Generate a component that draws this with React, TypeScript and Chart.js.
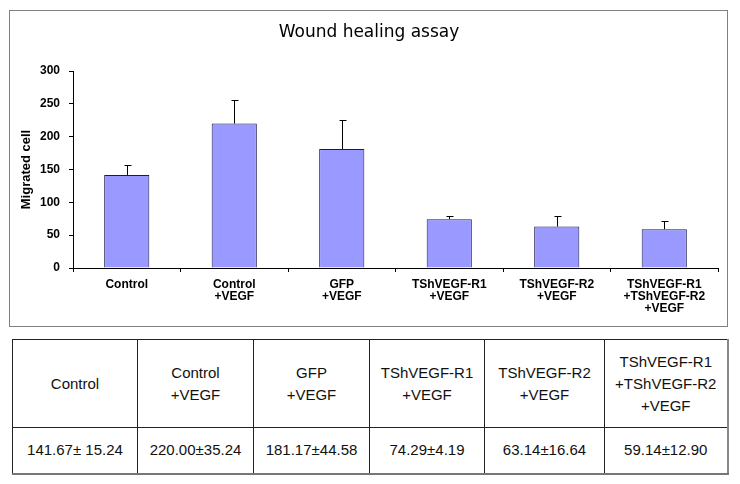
import React, { useEffect, useRef } from "react";
import { Chart, registerables } from "chart.js";

Chart.register(...registerables);

const chartTitle = "Wound healing assay";
const yAxisTitle = "Migrated cell";
const categories: string[][] = [
  ["Control"],
  ["Control", "+VEGF"],
  ["GFP", "+VEGF"],
  ["TShVEGF-R1", "+VEGF"],
  ["TShVEGF-R2", "+VEGF"],
  ["TShVEGF-R1", "+TShVEGF-R2", "+VEGF"],
];
const means = [141.67, 220.0, 181.17, 74.29, 63.14, 59.14];
const sds = [15.24, 35.24, 44.58, 4.19, 16.64, 12.9];
const tableValues = [
  "141.67± 15.24",
  "220.00±35.24",
  "181.17±44.58",
  "74.29±4.19",
  "63.14±16.64",
  "59.14±12.90",
];
const yMin = 0;
const yMax = 300;
const yStep = 50;

const FONT = "'Liberation Sans', Arial, sans-serif";

const errorBarPlugin = {
  id: "errorBars",
  afterDatasetsDraw(chart: any) {
    const ctx = chart.ctx;
    const meta = chart.getDatasetMeta(0);
    const yScale = chart.scales.y;
    ctx.save();
    ctx.strokeStyle = "#000";
    ctx.lineWidth = 1;
    meta.data.forEach((bar: any, i: number) => {
      const x = Math.round(bar.x) + 0.5;
      const top = Math.round(yScale.getPixelForValue(means[i] + sds[i])) + 0.5;
      ctx.beginPath();
      ctx.moveTo(x, bar.y);
      ctx.lineTo(x, top);
      ctx.moveTo(x - 3, top);
      ctx.lineTo(x + 4, top);
      ctx.stroke();
    });
    ctx.restore();
  },
};

const titlePlugin = {
  id: "customTitle",
  afterDraw(chart: any) {
    const ctx = chart.ctx;
    ctx.save();
    ctx.fillStyle = "#000";
    ctx.font = `17px 'DejaVu Sans', ${FONT}`;
    ctx.textAlign = "center";
    ctx.textBaseline = "middle";
    ctx.fillText(chartTitle, 369, 33);
    ctx.restore();
  },
};

function BarChart() {
  const ref = useRef<HTMLCanvasElement | null>(null);
  useEffect(() => {
    if (!ref.current) return;
    const chart = new Chart(ref.current, {
      type: "bar",
      data: {
        labels: categories,
        datasets: [
          {
            data: means,
            backgroundColor: "#9999ff",
            borderColor: "#1a1a50",
            borderWidth: 1,
            barPercentage: 0.42,
            categoryPercentage: 1,
          },
        ],
      },
      options: {
        responsive: false,
        animation: false,
        events: [],
        layout: { padding: { left: 0, right: 22, top: 71, bottom: 0 } },
        plugins: {
          legend: { display: false },
          title: { display: false },
          tooltip: { enabled: false },
        },
        scales: {
          x: {
            grid: {
              display: true,
              drawOnChartArea: false,
              drawTicks: true,
              tickLength: 4,
              color: "#000",
            },
            border: { color: "#000", width: 1 },
            ticks: {
              color: "#000",
              font: { family: FONT, size: 12, weight: "bold", lineHeight: 1.0 },
              padding: 7,
              maxRotation: 0,
              autoSkip: false,
            },
            afterFit(scale: any) {
              scale.height = 62;
            },
          },
          y: {
            min: yMin,
            max: yMax,
            grid: {
              display: true,
              drawOnChartArea: false,
              drawTicks: true,
              tickLength: 4,
              color: "#000",
            },
            border: { color: "#000", width: 1 },
            ticks: {
              stepSize: yStep,
              color: "#000",
              font: { family: FONT, size: 12, weight: "bold" },
              padding: 9,
            },
            title: {
              display: true,
              text: yAxisTitle,
              color: "#000",
              font: { family: FONT, size: 13, weight: "bold" },
              padding: { top: 19, bottom: 0 },
            },
            afterFit(scale: any) {
              scale.width = 73;
            },
          },
        },
      },
      plugins: [errorBarPlugin, titlePlugin],
    });
    return () => chart.destroy();
  }, []);
  return (
    <canvas
      ref={ref}
      width={740}
      height={330}
      style={{ position: "absolute", left: 0, top: 0, width: 740, height: 330 }}
    />
  );
}

const colWidths = [125, 116, 116, 115, 120, 123];

export default function App() {
  const cellBase: React.CSSProperties = {
    border: "1px solid #222",
    textAlign: "center",
    verticalAlign: "middle",
    padding: 0,
    fontFamily: FONT,
    fontSize: 15,
    color: "#111",
    lineHeight: "22px",
  };
  return (
    <div
      style={{
        position: "absolute",
        left: 0,
        top: 0,
        width: 740,
        height: 484,
        background: "#fff",
        overflow: "hidden",
      }}
    >
      <div
        style={{
          position: "absolute",
          left: 9,
          top: 10,
          width: 719,
          height: 317,
          boxSizing: "border-box",
          border: "1px solid #808080",
        }}
      />
      <BarChart />
      <table
        style={{
          position: "absolute",
          left: 12,
          top: 339,
          width: 716,
          height: 135,
          borderCollapse: "collapse",
          tableLayout: "fixed",
          borderTop: "1px solid #555",
          borderLeft: "1px solid #333",
          borderRight: "2px solid #888",
          borderBottom: "2px solid #777",
        }}
      >
        <colgroup>
          {colWidths.map((w, i) => (
            <col key={i} style={{ width: w }} />
          ))}
        </colgroup>
        <tbody>
          <tr style={{ height: 88 }}>
            {categories.map((lines, i) => (
              <td key={i} style={cellBase}>
                {lines.map((l, j) => (
                  <div key={j}>{l}</div>
                ))}
              </td>
            ))}
          </tr>
          <tr style={{ height: 46 }}>
            {tableValues.map((v, i) => (
              <td key={i} style={cellBase}>
                {v}
              </td>
            ))}
          </tr>
        </tbody>
      </table>
    </div>
  );
}
